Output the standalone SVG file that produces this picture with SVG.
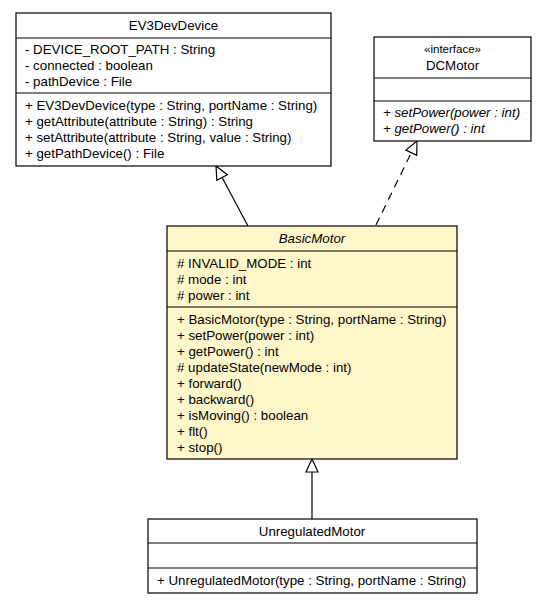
<svg xmlns="http://www.w3.org/2000/svg" width="545" height="603" viewBox="0 0 545 603">
<style>
text { font-family: "Liberation Sans", Arial, sans-serif; font-size: 13.3px; fill: #000; }
.c { text-anchor: middle; }
.i { font-style: italic; }
.box { fill: #fff; stroke: #000; stroke-width: 1.2; }
.ybox { fill: #FFF7C9; stroke: #000; stroke-width: 1.2; }
.sep { stroke: #000; stroke-width: 1.2; }
.conn { fill: none; stroke: #000; stroke-width: 1.2; }
.dash { stroke-dasharray: 8 6; }
.head { fill: #fff; stroke: #000; stroke-width: 1.2; }
</style>
<g id="connectors">
<path class="conn" d="M248,226 L222.1,177.5" />
<path class="conn dash" d="M376,225 L411.3,152.7" />
<path class="conn" d="M312,519 L312,472" />
<path class="head" d="M216,166 L227.4,174.7 L216.8,180.3 Z"/>
<path class="head" d="M417,141 L416.7,155.3 L405.9,150.1 Z"/>
<path class="head" d="M312,459 L318,472 L306,472 Z"/>
</g>
<g id="EV3DevDevice">
<rect class="box" x="16" y="13" width="315" height="153"/>
<line class="sep" x1="16" y1="38" x2="331" y2="38"/>
<line class="sep" x1="16" y1="93" x2="331" y2="93"/>
<text class="c" x="173.5" y="30">EV3DevDevice</text>
<text x="25" y="54">- DEVICE_ROOT_PATH : String</text>
<text x="25" y="70">- connected : boolean</text>
<text x="25" y="86">- pathDevice : File</text>
<text x="25" y="110">+ EV3DevDevice(type : String, portName : String)</text>
<text x="25" y="126">+ getAttribute(attribute : String) : String</text>
<text x="25" y="142">+ setAttribute(attribute : String, value : String)</text>
<text x="25" y="158">+ getPathDevice() : File</text>
</g>
<g id="DCMotor">
<rect class="box" x="374" y="37" width="157" height="104"/>
<line class="sep" x1="374" y1="78" x2="531" y2="78"/>
<line class="sep" x1="374" y1="101" x2="531" y2="101"/>
<text class="c" x="452.5" y="53" style="font-size:11.5px">«interface»</text>
<text class="c" x="452.5" y="70">DCMotor</text>
<text class="i" x="383" y="117">+ setPower(power : int)</text>
<text class="i" x="383" y="133">+ getPower() : int</text>
</g>
<g id="BasicMotor">
<rect class="ybox" x="167" y="226" width="290" height="233"/>
<line class="sep" x1="167" y1="251" x2="457" y2="251"/>
<line class="sep" x1="167" y1="307" x2="457" y2="307"/>
<text class="c i" x="312" y="243">BasicMotor</text>
<text x="177" y="268"># INVALID_MODE : int</text>
<text x="177" y="284"># mode : int</text>
<text x="177" y="300"># power : int</text>
<text x="177" y="324">+ BasicMotor(type : String, portName : String)</text>
<text x="177" y="340">+ setPower(power : int)</text>
<text x="177" y="356">+ getPower() : int</text>
<text x="177" y="372"># updateState(newMode : int)</text>
<text x="177" y="388">+ forward()</text>
<text x="177" y="404">+ backward()</text>
<text x="177" y="420">+ isMoving() : boolean</text>
<text x="177" y="436">+ flt()</text>
<text x="177" y="452">+ stop()</text>
</g>
<g id="UnregulatedMotor">
<rect class="box" x="148" y="519" width="329" height="74"/>
<line class="sep" x1="148" y1="543" x2="477" y2="543"/>
<line class="sep" x1="148" y1="568" x2="477" y2="568"/>
<text class="c" x="312" y="536">UnregulatedMotor</text>
<text x="157" y="585">+ UnregulatedMotor(type : String, portName : String)</text>
</g>
</svg>
